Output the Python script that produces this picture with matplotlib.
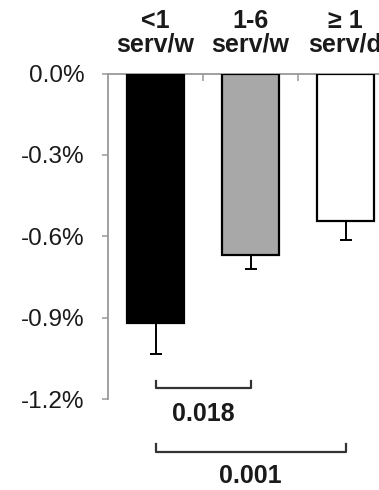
import numpy as np
import matplotlib.pyplot as plt

plt.rcParams['font.family'] = ['Liberation Sans', 'DejaVu Sans']

# data
categories = ['<1\nserv/w', '1-6\nserv/w', '≥ 1\nserv/d']
values = [-0.92, -0.67, -0.545]
errors = [0.115, 0.05, 0.07]
colors = ['black', '#a8a8a8', 'white']
yticks = [0.0, -0.3, -0.6, -0.9, -1.2]
comparisons = [(0, 1, '0.018'), (0, 2, '0.001')]

fig = plt.figure(figsize=(3.79, 4.9), dpi=100)
ax = fig.add_axes([0.285, 0.1857, 0.752, 0.664])

x = np.arange(len(categories))
ax.bar(x, values, width=0.59, color=colors, edgecolor='black', linewidth=1.6,
       zorder=3)
ax.errorbar(x, values, yerr=[errors, [0] * len(errors)], fmt='none',
            ecolor='black', elinewidth=1.4, capsize=4.5, capthick=1.4, zorder=2)

ax.set_xlim(-0.5, 2.5)
ax.set_ylim(-1.2, 0)

# y axis
ax.set_yticks(yticks)
ax.set_yticklabels([f'{v:.1f}%' for v in yticks], fontsize=17.5, color='#1a1a1a')
ax.tick_params(axis='y', length=4, width=1.1, color='#999999', pad=13)

# category axis along the top at zero
ax.xaxis.tick_top()
ax.set_xticks([0.5, 1.5])
ax.set_xticklabels([])
ax.set_xticks(x, minor=True)
ax.set_xticklabels(categories, minor=True, fontsize=18, fontweight='bold',
                   color='#1a1a1a', linespacing=1.0)
ax.tick_params(axis='x', which='major', direction='in', length=5, width=1.1,
               color='#999999')
ax.tick_params(axis='x', which='minor', length=0, pad=12)

for side in ['right', 'bottom']:
    ax.spines[side].set_visible(False)
for side in ['left', 'top']:
    ax.spines[side].set_color('#999999')
    ax.spines[side].set_linewidth(1.3)

# significance brackets below the bars
levels = [(-1.158, -1.132, -1.257), (-1.394, -1.365, -1.485)]
for (i, j, p), (yb, ye, yt) in zip(comparisons, levels):
    ax.plot([i, i, j, j], [ye, yb, yb, ye], color='#333333', lw=1.6,
            clip_on=False)
    ax.text((i + j) / 2, yt, p, ha='center', va='center', fontsize=18,
            fontweight='bold', color='#1a1a1a', clip_on=False)

fig.savefig('out.png', dpi=100)
